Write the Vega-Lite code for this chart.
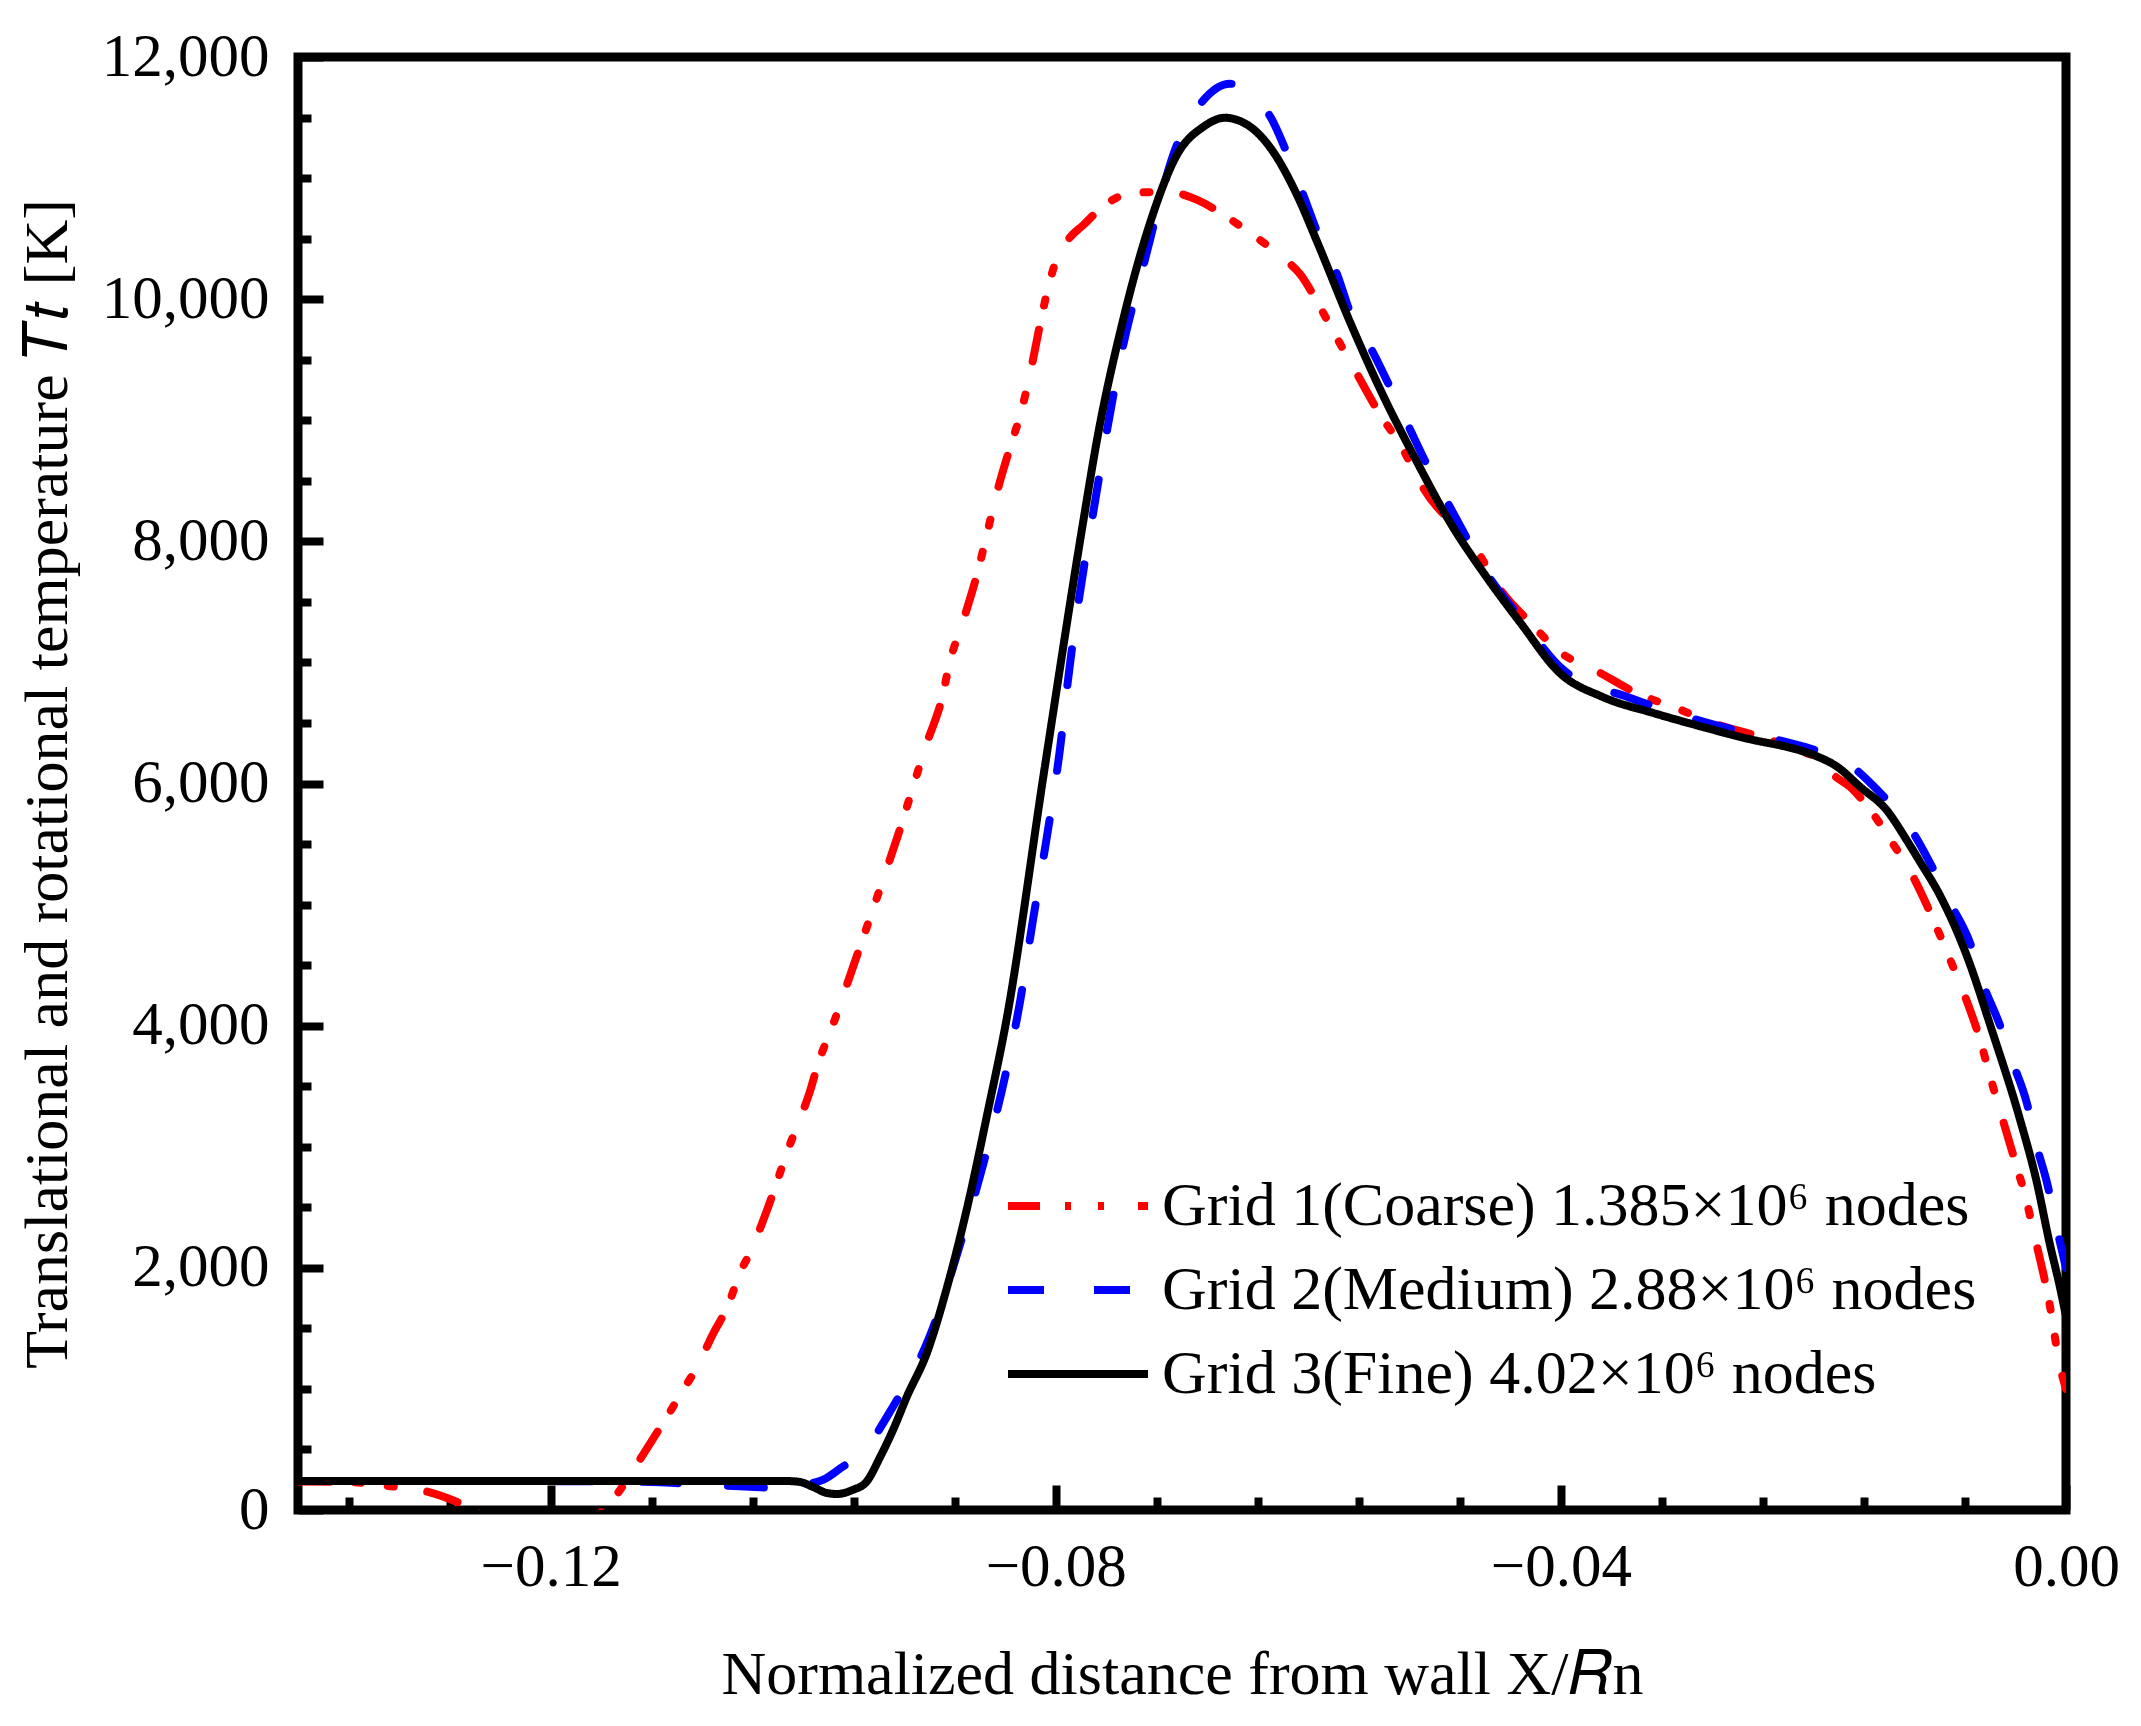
{
  "$schema": "https://vega.github.io/schema/vega-lite/v6.json",
  "width": 1768,
  "height": 1453,
  "autosize": {"type": "none"},
  "padding": {"left": 298, "top": 57, "right": 75, "bottom": 216},
  "background": "white",
  "config": {
    "view": {"stroke": "black", "strokeWidth": 9},
    "font": "Liberation Serif",
    "axis": {
      "labelFont": "Liberation Serif",
      "labelColor": "black",
      "titleFont": "Liberation Serif",
      "titleColor": "black",
      "titleFontWeight": "normal",
      "tickColor": "black",
      "tickWidth": 8,
      "domain": false,
      "grid": false
    },
    "legend": {
      "orient": "none",
      "legendX": 741,
      "legendY": 1110,
      "labelFont": "Liberation Serif",
      "labelFontSize": 62,
      "labelColor": "black",
      "labelLimit": 0,
      "labelOffset": 45,
      "symbolType": "M-2,0H2",
      "symbolSize": 4900,
      "symbolStrokeWidth": 8,
      "rowPadding": 14
    }
  },
  "data": {
    "values": [
      {"grid": "Grid 1(Coarse) 1.385×10⁶ nodes", "x": -0.140, "t": 235},
      {"grid": "Grid 1(Coarse) 1.385×10⁶ nodes", "x": -0.136, "t": 232},
      {"grid": "Grid 1(Coarse) 1.385×10⁶ nodes", "x": -0.1330, "t": 200},
      {"grid": "Grid 1(Coarse) 1.385×10⁶ nodes", "x": -0.1303, "t": 165},
      {"grid": "Grid 1(Coarse) 1.385×10⁶ nodes", "x": -0.1274, "t": 66},
      {"grid": "Grid 1(Coarse) 1.385×10⁶ nodes", "x": -0.1264, "t": 20},
      {"grid": "Grid 1(Coarse) 1.385×10⁶ nodes", "x": -0.1240, "t": -150},
      {"grid": "Grid 1(Coarse) 1.385×10⁶ nodes", "x": -0.1205, "t": -250},
      {"grid": "Grid 1(Coarse) 1.385×10⁶ nodes", "x": -0.1180, "t": -180},
      {"grid": "Grid 1(Coarse) 1.385×10⁶ nodes", "x": -0.1153, "t": 58},
      {"grid": "Grid 1(Coarse) 1.385×10⁶ nodes", "x": -0.1121, "t": 553},
      {"grid": "Grid 1(Coarse) 1.385×10⁶ nodes", "x": -0.1108, "t": 768},
      {"grid": "Grid 1(Coarse) 1.385×10⁶ nodes", "x": -0.1095, "t": 991},
      {"grid": "Grid 1(Coarse) 1.385×10⁶ nodes", "x": -0.1084, "t": 1181},
      {"grid": "Grid 1(Coarse) 1.385×10⁶ nodes", "x": -0.1071, "t": 1462},
      {"grid": "Grid 1(Coarse) 1.385×10⁶ nodes", "x": -0.1060, "t": 1677},
      {"grid": "Grid 1(Coarse) 1.385×10⁶ nodes", "x": -0.1050, "t": 1958},
      {"grid": "Grid 1(Coarse) 1.385×10⁶ nodes", "x": -0.1041, "t": 2148},
      {"grid": "Grid 1(Coarse) 1.385×10⁶ nodes", "x": -0.1030, "t": 2437},
      {"grid": "Grid 1(Coarse) 1.385×10⁶ nodes", "x": -0.1021, "t": 2701},
      {"grid": "Grid 1(Coarse) 1.385×10⁶ nodes", "x": -0.1013, "t": 2949},
      {"grid": "Grid 1(Coarse) 1.385×10⁶ nodes", "x": -0.1005, "t": 3164},
      {"grid": "Grid 1(Coarse) 1.385×10⁶ nodes", "x": -0.0995, "t": 3445},
      {"grid": "Grid 1(Coarse) 1.385×10⁶ nodes", "x": -0.0988, "t": 3692},
      {"grid": "Grid 1(Coarse) 1.385×10⁶ nodes", "x": -0.0977, "t": 3990},
      {"grid": "Grid 1(Coarse) 1.385×10⁶ nodes", "x": -0.0960, "t": 4500},
      {"grid": "Grid 1(Coarse) 1.385×10⁶ nodes", "x": -0.0940, "t": 5105},
      {"grid": "Grid 1(Coarse) 1.385×10⁶ nodes", "x": -0.0921, "t": 5700},
      {"grid": "Grid 1(Coarse) 1.385×10⁶ nodes", "x": -0.0913, "t": 5972},
      {"grid": "Grid 1(Coarse) 1.385×10⁶ nodes", "x": -0.0902, "t": 6335},
      {"grid": "Grid 1(Coarse) 1.385×10⁶ nodes", "x": -0.0890, "t": 6707},
      {"grid": "Grid 1(Coarse) 1.385×10⁶ nodes", "x": -0.0884, "t": 6996},
      {"grid": "Grid 1(Coarse) 1.385×10⁶ nodes", "x": -0.0873, "t": 7351},
      {"grid": "Grid 1(Coarse) 1.385×10⁶ nodes", "x": -0.0862, "t": 7740},
      {"grid": "Grid 1(Coarse) 1.385×10⁶ nodes", "x": -0.0855, "t": 8037},
      {"grid": "Grid 1(Coarse) 1.385×10⁶ nodes", "x": -0.0847, "t": 8384},
      {"grid": "Grid 1(Coarse) 1.385×10⁶ nodes", "x": -0.0835, "t": 8814},
      {"grid": "Grid 1(Coarse) 1.385×10⁶ nodes", "x": -0.0828, "t": 9045},
      {"grid": "Grid 1(Coarse) 1.385×10⁶ nodes", "x": -0.0820, "t": 9400},
      {"grid": "Grid 1(Coarse) 1.385×10⁶ nodes", "x": -0.0812, "t": 9813},
      {"grid": "Grid 1(Coarse) 1.385×10⁶ nodes", "x": -0.0806, "t": 10094},
      {"grid": "Grid 1(Coarse) 1.385×10⁶ nodes", "x": -0.0799, "t": 10341},
      {"grid": "Grid 1(Coarse) 1.385×10⁶ nodes", "x": -0.0789, "t": 10507},
      {"grid": "Grid 1(Coarse) 1.385×10⁶ nodes", "x": -0.0778, "t": 10614},
      {"grid": "Grid 1(Coarse) 1.385×10⁶ nodes", "x": -0.0763, "t": 10762},
      {"grid": "Grid 1(Coarse) 1.385×10⁶ nodes", "x": -0.0739, "t": 10878},
      {"grid": "Grid 1(Coarse) 1.385×10⁶ nodes", "x": -0.0712, "t": 10886},
      {"grid": "Grid 1(Coarse) 1.385×10⁶ nodes", "x": -0.0688, "t": 10820},
      {"grid": "Grid 1(Coarse) 1.385×10⁶ nodes", "x": -0.0667, "t": 10696},
      {"grid": "Grid 1(Coarse) 1.385×10⁶ nodes", "x": -0.0644, "t": 10531},
      {"grid": "Grid 1(Coarse) 1.385×10⁶ nodes", "x": -0.0620, "t": 10341},
      {"grid": "Grid 1(Coarse) 1.385×10⁶ nodes", "x": -0.0606, "t": 10201},
      {"grid": "Grid 1(Coarse) 1.385×10⁶ nodes", "x": -0.0593, "t": 9978},
      {"grid": "Grid 1(Coarse) 1.385×10⁶ nodes", "x": -0.0580, "t": 9730},
      {"grid": "Grid 1(Coarse) 1.385×10⁶ nodes", "x": -0.0561, "t": 9375},
      {"grid": "Grid 1(Coarse) 1.385×10⁶ nodes", "x": -0.0543, "t": 9045},
      {"grid": "Grid 1(Coarse) 1.385×10⁶ nodes", "x": -0.0527, "t": 8797},
      {"grid": "Grid 1(Coarse) 1.385×10⁶ nodes", "x": -0.0509, "t": 8442},
      {"grid": "Grid 1(Coarse) 1.385×10⁶ nodes", "x": -0.0467, "t": 7930},
      {"grid": "Grid 1(Coarse) 1.385×10⁶ nodes", "x": -0.0446, "t": 7574},
      {"grid": "Grid 1(Coarse) 1.385×10⁶ nodes", "x": -0.0424, "t": 7327},
      {"grid": "Grid 1(Coarse) 1.385×10⁶ nodes", "x": -0.0403, "t": 7104},
      {"grid": "Grid 1(Coarse) 1.385×10⁶ nodes", "x": -0.0369, "t": 6914},
      {"grid": "Grid 1(Coarse) 1.385×10⁶ nodes", "x": -0.0337, "t": 6732},
      {"grid": "Grid 1(Coarse) 1.385×10⁶ nodes", "x": -0.0311, "t": 6633},
      {"grid": "Grid 1(Coarse) 1.385×10⁶ nodes", "x": -0.0280, "t": 6501},
      {"grid": "Grid 1(Coarse) 1.385×10⁶ nodes", "x": -0.0242, "t": 6385},
      {"grid": "Grid 1(Coarse) 1.385×10⁶ nodes", "x": -0.0210, "t": 6270},
      {"grid": "Grid 1(Coarse) 1.385×10⁶ nodes", "x": -0.0195, "t": 6195},
      {"grid": "Grid 1(Coarse) 1.385×10⁶ nodes", "x": -0.0184, "t": 6070},
      {"grid": "Grid 1(Coarse) 1.385×10⁶ nodes", "x": -0.0171, "t": 5972},
      {"grid": "Grid 1(Coarse) 1.385×10⁶ nodes", "x": -0.0155, "t": 5782},
      {"grid": "Grid 1(Coarse) 1.385×10⁶ nodes", "x": -0.0139, "t": 5534},
      {"grid": "Grid 1(Coarse) 1.385×10⁶ nodes", "x": -0.0121, "t": 5229},
      {"grid": "Grid 1(Coarse) 1.385×10⁶ nodes", "x": -0.0105, "t": 4873},
      {"grid": "Grid 1(Coarse) 1.385×10⁶ nodes", "x": -0.0094, "t": 4601},
      {"grid": "Grid 1(Coarse) 1.385×10⁶ nodes", "x": -0.0081, "t": 4270},
      {"grid": "Grid 1(Coarse) 1.385×10⁶ nodes", "x": -0.0068, "t": 3882},
      {"grid": "Grid 1(Coarse) 1.385×10⁶ nodes", "x": -0.0060, "t": 3577},
      {"grid": "Grid 1(Coarse) 1.385×10⁶ nodes", "x": -0.0050, "t": 3221},
      {"grid": "Grid 1(Coarse) 1.385×10⁶ nodes", "x": -0.0039, "t": 2833},
      {"grid": "Grid 1(Coarse) 1.385×10⁶ nodes", "x": -0.0032, "t": 2585},
      {"grid": "Grid 1(Coarse) 1.385×10⁶ nodes", "x": -0.0026, "t": 2313},
      {"grid": "Grid 1(Coarse) 1.385×10⁶ nodes", "x": -0.0013, "t": 1700},
      {"grid": "Grid 1(Coarse) 1.385×10⁶ nodes", "x": -0.0005, "t": 1200},
      {"grid": "Grid 1(Coarse) 1.385×10⁶ nodes", "x": 0.0, "t": 1000},

      {"grid": "Grid 2(Medium) 2.88×10⁶ nodes", "x": -0.140, "t": 240},
      {"grid": "Grid 2(Medium) 2.88×10⁶ nodes", "x": -0.120, "t": 238},
      {"grid": "Grid 2(Medium) 2.88×10⁶ nodes", "x": -0.112, "t": 232},
      {"grid": "Grid 2(Medium) 2.88×10⁶ nodes", "x": -0.1097, "t": 220},
      {"grid": "Grid 2(Medium) 2.88×10⁶ nodes", "x": -0.1060, "t": 200},
      {"grid": "Grid 2(Medium) 2.88×10⁶ nodes", "x": -0.1034, "t": 188},
      {"grid": "Grid 2(Medium) 2.88×10⁶ nodes", "x": -0.1018, "t": 180},
      {"grid": "Grid 2(Medium) 2.88×10⁶ nodes", "x": -0.1005, "t": 190},
      {"grid": "Grid 2(Medium) 2.88×10⁶ nodes", "x": -0.0995, "t": 215},
      {"grid": "Grid 2(Medium) 2.88×10⁶ nodes", "x": -0.0984, "t": 250},
      {"grid": "Grid 2(Medium) 2.88×10⁶ nodes", "x": -0.0969, "t": 355},
      {"grid": "Grid 2(Medium) 2.88×10⁶ nodes", "x": -0.0955, "t": 454},
      {"grid": "Grid 2(Medium) 2.88×10⁶ nodes", "x": -0.0929, "t": 851},
      {"grid": "Grid 2(Medium) 2.88×10⁶ nodes", "x": -0.0900, "t": 1429},
      {"grid": "Grid 2(Medium) 2.88×10⁶ nodes", "x": -0.0873, "t": 2288},
      {"grid": "Grid 2(Medium) 2.88×10⁶ nodes", "x": -0.0855, "t": 2949},
      {"grid": "Grid 2(Medium) 2.88×10⁶ nodes", "x": -0.0839, "t": 3634},
      {"grid": "Grid 2(Medium) 2.88×10⁶ nodes", "x": -0.0828, "t": 4213},
      {"grid": "Grid 2(Medium) 2.88×10⁶ nodes", "x": -0.0818, "t": 4873},
      {"grid": "Grid 2(Medium) 2.88×10⁶ nodes", "x": -0.0807, "t": 5559},
      {"grid": "Grid 2(Medium) 2.88×10⁶ nodes", "x": -0.0797, "t": 6253},
      {"grid": "Grid 2(Medium) 2.88×10⁶ nodes", "x": -0.0789, "t": 6963},
      {"grid": "Grid 2(Medium) 2.88×10⁶ nodes", "x": -0.0777, "t": 7830},
      {"grid": "Grid 2(Medium) 2.88×10⁶ nodes", "x": -0.0771, "t": 8194},
      {"grid": "Grid 2(Medium) 2.88×10⁶ nodes", "x": -0.0760, "t": 8880},
      {"grid": "Grid 2(Medium) 2.88×10⁶ nodes", "x": -0.0747, "t": 9598},
      {"grid": "Grid 2(Medium) 2.88×10⁶ nodes", "x": -0.0731, "t": 10259},
      {"grid": "Grid 2(Medium) 2.88×10⁶ nodes", "x": -0.0704, "t": 11275},
      {"grid": "Grid 2(Medium) 2.88×10⁶ nodes", "x": -0.0686, "t": 11605},
      {"grid": "Grid 2(Medium) 2.88×10⁶ nodes", "x": -0.0662, "t": 11779},
      {"grid": "Grid 2(Medium) 2.88×10⁶ nodes", "x": -0.0646, "t": 11690},
      {"grid": "Grid 2(Medium) 2.88×10⁶ nodes", "x": -0.0630, "t": 11506},
      {"grid": "Grid 2(Medium) 2.88×10⁶ nodes", "x": -0.0617, "t": 11209},
      {"grid": "Grid 2(Medium) 2.88×10⁶ nodes", "x": -0.0604, "t": 10862},
      {"grid": "Grid 2(Medium) 2.88×10⁶ nodes", "x": -0.0593, "t": 10557},
      {"grid": "Grid 2(Medium) 2.88×10⁶ nodes", "x": -0.0577, "t": 10201},
      {"grid": "Grid 2(Medium) 2.88×10⁶ nodes", "x": -0.0567, "t": 9896},
      {"grid": "Grid 2(Medium) 2.88×10⁶ nodes", "x": -0.0549, "t": 9565},
      {"grid": "Grid 2(Medium) 2.88×10⁶ nodes", "x": -0.0535, "t": 9268},
      {"grid": "Grid 2(Medium) 2.88×10⁶ nodes", "x": -0.0520, "t": 8937},
      {"grid": "Grid 2(Medium) 2.88×10⁶ nodes", "x": -0.0506, "t": 8632},
      {"grid": "Grid 2(Medium) 2.88×10⁶ nodes", "x": -0.0486, "t": 8250},
      {"grid": "Grid 2(Medium) 2.88×10⁶ nodes", "x": -0.0459, "t": 7740},
      {"grid": "Grid 2(Medium) 2.88×10⁶ nodes", "x": -0.0430, "t": 7340},
      {"grid": "Grid 2(Medium) 2.88×10⁶ nodes", "x": -0.0398, "t": 6938},
      {"grid": "Grid 2(Medium) 2.88×10⁶ nodes", "x": -0.0345, "t": 6707},
      {"grid": "Grid 2(Medium) 2.88×10⁶ nodes", "x": -0.0284, "t": 6501},
      {"grid": "Grid 2(Medium) 2.88×10⁶ nodes", "x": -0.0219, "t": 6335},
      {"grid": "Grid 2(Medium) 2.88×10⁶ nodes", "x": -0.0200, "t": 6280},
      {"grid": "Grid 2(Medium) 2.88×10⁶ nodes", "x": -0.0169, "t": 6137},
      {"grid": "Grid 2(Medium) 2.88×10⁶ nodes", "x": -0.0155, "t": 6005},
      {"grid": "Grid 2(Medium) 2.88×10⁶ nodes", "x": -0.0142, "t": 5865},
      {"grid": "Grid 2(Medium) 2.88×10⁶ nodes", "x": -0.0121, "t": 5592},
      {"grid": "Grid 2(Medium) 2.88×10⁶ nodes", "x": -0.0106, "t": 5311},
      {"grid": "Grid 2(Medium) 2.88×10⁶ nodes", "x": -0.0090, "t": 4981},
      {"grid": "Grid 2(Medium) 2.88×10⁶ nodes", "x": -0.0076, "t": 4684},
      {"grid": "Grid 2(Medium) 2.88×10⁶ nodes", "x": -0.0066, "t": 4353},
      {"grid": "Grid 2(Medium) 2.88×10⁶ nodes", "x": -0.0053, "t": 4023},
      {"grid": "Grid 2(Medium) 2.88×10⁶ nodes", "x": -0.0042, "t": 3692},
      {"grid": "Grid 2(Medium) 2.88×10⁶ nodes", "x": -0.0031, "t": 3362},
      {"grid": "Grid 2(Medium) 2.88×10⁶ nodes", "x": -0.0023, "t": 2998},
      {"grid": "Grid 2(Medium) 2.88×10⁶ nodes", "x": -0.0015, "t": 2701},
      {"grid": "Grid 2(Medium) 2.88×10⁶ nodes", "x": -0.0007, "t": 2313},
      {"grid": "Grid 2(Medium) 2.88×10⁶ nodes", "x": 0.0, "t": 2000},

      {"grid": "Grid 3(Fine) 4.02×10⁶ nodes", "x": -0.140, "t": 240},
      {"grid": "Grid 3(Fine) 4.02×10⁶ nodes", "x": -0.120, "t": 240},
      {"grid": "Grid 3(Fine) 4.02×10⁶ nodes", "x": -0.1015, "t": 240},
      {"grid": "Grid 3(Fine) 4.02×10⁶ nodes", "x": -0.1003, "t": 232},
      {"grid": "Grid 3(Fine) 4.02×10⁶ nodes", "x": -0.0992, "t": 190},
      {"grid": "Grid 3(Fine) 4.02×10⁶ nodes", "x": -0.0981, "t": 140},
      {"grid": "Grid 3(Fine) 4.02×10⁶ nodes", "x": -0.0973, "t": 132},
      {"grid": "Grid 3(Fine) 4.02×10⁶ nodes", "x": -0.0961, "t": 165},
      {"grid": "Grid 3(Fine) 4.02×10⁶ nodes", "x": -0.0950, "t": 231},
      {"grid": "Grid 3(Fine) 4.02×10⁶ nodes", "x": -0.0939, "t": 438},
      {"grid": "Grid 3(Fine) 4.02×10⁶ nodes", "x": -0.0928, "t": 680},
      {"grid": "Grid 3(Fine) 4.02×10⁶ nodes", "x": -0.0918, "t": 933},
      {"grid": "Grid 3(Fine) 4.02×10⁶ nodes", "x": -0.0902, "t": 1297},
      {"grid": "Grid 3(Fine) 4.02×10⁶ nodes", "x": -0.0886, "t": 1842},
      {"grid": "Grid 3(Fine) 4.02×10⁶ nodes", "x": -0.0870, "t": 2503},
      {"grid": "Grid 3(Fine) 4.02×10⁶ nodes", "x": -0.0854, "t": 3280},
      {"grid": "Grid 3(Fine) 4.02×10⁶ nodes", "x": -0.0839, "t": 4048},
      {"grid": "Grid 3(Fine) 4.02×10⁶ nodes", "x": -0.0809, "t": 6112},
      {"grid": "Grid 3(Fine) 4.02×10⁶ nodes", "x": -0.0778, "t": 8177},
      {"grid": "Grid 3(Fine) 4.02×10⁶ nodes", "x": -0.0767, "t": 8855},
      {"grid": "Grid 3(Fine) 4.02×10⁶ nodes", "x": -0.0747, "t": 9813},
      {"grid": "Grid 3(Fine) 4.02×10⁶ nodes", "x": -0.0725, "t": 10639},
      {"grid": "Grid 3(Fine) 4.02×10⁶ nodes", "x": -0.0704, "t": 11192},
      {"grid": "Grid 3(Fine) 4.02×10⁶ nodes", "x": -0.0683, "t": 11424},
      {"grid": "Grid 3(Fine) 4.02×10⁶ nodes", "x": -0.0666, "t": 11498},
      {"grid": "Grid 3(Fine) 4.02×10⁶ nodes", "x": -0.0646, "t": 11424},
      {"grid": "Grid 3(Fine) 4.02×10⁶ nodes", "x": -0.0630, "t": 11250},
      {"grid": "Grid 3(Fine) 4.02×10⁶ nodes", "x": -0.0609, "t": 10862},
      {"grid": "Grid 3(Fine) 4.02×10⁶ nodes", "x": -0.0593, "t": 10474},
      {"grid": "Grid 3(Fine) 4.02×10⁶ nodes", "x": -0.0567, "t": 9813},
      {"grid": "Grid 3(Fine) 4.02×10⁶ nodes", "x": -0.0541, "t": 9210},
      {"grid": "Grid 3(Fine) 4.02×10⁶ nodes", "x": -0.0514, "t": 8657},
      {"grid": "Grid 3(Fine) 4.02×10⁶ nodes", "x": -0.0488, "t": 8161},
      {"grid": "Grid 3(Fine) 4.02×10⁶ nodes", "x": -0.0459, "t": 7707},
      {"grid": "Grid 3(Fine) 4.02×10⁶ nodes", "x": -0.0432, "t": 7327},
      {"grid": "Grid 3(Fine) 4.02×10⁶ nodes", "x": -0.0401, "t": 6914},
      {"grid": "Grid 3(Fine) 4.02×10⁶ nodes", "x": -0.0367, "t": 6715},
      {"grid": "Grid 3(Fine) 4.02×10⁶ nodes", "x": -0.0327, "t": 6583},
      {"grid": "Grid 3(Fine) 4.02×10⁶ nodes", "x": -0.0288, "t": 6468},
      {"grid": "Grid 3(Fine) 4.02×10⁶ nodes", "x": -0.0248, "t": 6360},
      {"grid": "Grid 3(Fine) 4.02×10⁶ nodes", "x": -0.0221, "t": 6302},
      {"grid": "Grid 3(Fine) 4.02×10⁶ nodes", "x": -0.0200, "t": 6236},
      {"grid": "Grid 3(Fine) 4.02×10⁶ nodes", "x": -0.0181, "t": 6137},
      {"grid": "Grid 3(Fine) 4.02×10⁶ nodes", "x": -0.0163, "t": 5972},
      {"grid": "Grid 3(Fine) 4.02×10⁶ nodes", "x": -0.0142, "t": 5780},
      {"grid": "Grid 3(Fine) 4.02×10⁶ nodes", "x": -0.0126, "t": 5530},
      {"grid": "Grid 3(Fine) 4.02×10⁶ nodes", "x": -0.0116, "t": 5360},
      {"grid": "Grid 3(Fine) 4.02×10⁶ nodes", "x": -0.0100, "t": 5080},
      {"grid": "Grid 3(Fine) 4.02×10⁶ nodes", "x": -0.0079, "t": 4590},
      {"grid": "Grid 3(Fine) 4.02×10⁶ nodes", "x": -0.0058, "t": 3940},
      {"grid": "Grid 3(Fine) 4.02×10⁶ nodes", "x": -0.0037, "t": 3246},
      {"grid": "Grid 3(Fine) 4.02×10⁶ nodes", "x": -0.0023, "t": 2701},
      {"grid": "Grid 3(Fine) 4.02×10⁶ nodes", "x": -0.0013, "t": 2205},
      {"grid": "Grid 3(Fine) 4.02×10⁶ nodes", "x": -0.0005, "t": 1850},
      {"grid": "Grid 3(Fine) 4.02×10⁶ nodes", "x": 0.0, "t": 1600}
    ]
  },
  "mark": {"type": "line", "strokeWidth": 8, "strokeCap": "round", "strokeJoin": "round", "interpolate": "monotone", "clip": true},
  "encoding": {
    "x": {
      "field": "x",
      "type": "quantitative",
      "scale": {"domain": [-0.14, 0], "nice": false, "zero": false},
      "axis": {
        "values": [-0.136, -0.128, -0.12, -0.112, -0.104, -0.096, -0.088, -0.08, -0.072, -0.064, -0.056, -0.048, -0.04, -0.032, -0.024, -0.016, -0.008, 0],
        "labelExpr": "abs(datum.value / 0.04 - round(datum.value / 0.04)) < 0.01 ? format(datum.value, '.2f') : ''",
        "tickSize": {"condition": {"test": "abs(datum.value / 0.04 - round(datum.value / 0.04)) < 0.01", "value": -25}, "value": -13},
        "labelFontSize": 61,
        "labelPadding": 52,
        "labelFlush": false,
        "labelOverlap": false,
        "title": "Normalized distance from wall X/𝑅n",
        "titleFontSize": 62,
        "titlePadding": 35
      }
    },
    "y": {
      "field": "t",
      "type": "quantitative",
      "scale": {"domain": [0, 12000], "nice": false, "zero": false},
      "axis": {
        "values": [0, 500, 1000, 1500, 2000, 2500, 3000, 3500, 4000, 4500, 5000, 5500, 6000, 6500, 7000, 7500, 8000, 8500, 9000, 9500, 10000, 10500, 11000, 11500, 12000],
        "labelExpr": "datum.value % 2000 === 0 ? format(datum.value, ',') : ''",
        "tickSize": {"condition": {"test": "datum.value % 2000 === 0", "value": -25}, "value": -13},
        "labelFontSize": 61,
        "labelPadding": 54,
        "labelFlush": false,
        "labelOverlap": false,
        "title": "Translational and rotational temperature 𝑇𝑡 [K]",
        "titleFontSize": 62,
        "titlePadding": 22
      }
    },
    "color": {
      "field": "grid",
      "type": "nominal",
      "title": null,
      "scale": {
        "domain": ["Grid 1(Coarse) 1.385×10⁶ nodes", "Grid 2(Medium) 2.88×10⁶ nodes", "Grid 3(Fine) 4.02×10⁶ nodes"],
        "range": ["#ff0000", "#0000ff", "#000000"]
      }
    },
    "strokeDash": {
      "field": "grid",
      "type": "nominal",
      "title": null,
      "scale": {
        "domain": ["Grid 1(Coarse) 1.385×10⁶ nodes", "Grid 2(Medium) 2.88×10⁶ nodes", "Grid 3(Fine) 4.02×10⁶ nodes"],
        "range": [[32, 25, 6, 27, 6, 34], [36, 50], [1, 0]]
      }
    }
  }
}
